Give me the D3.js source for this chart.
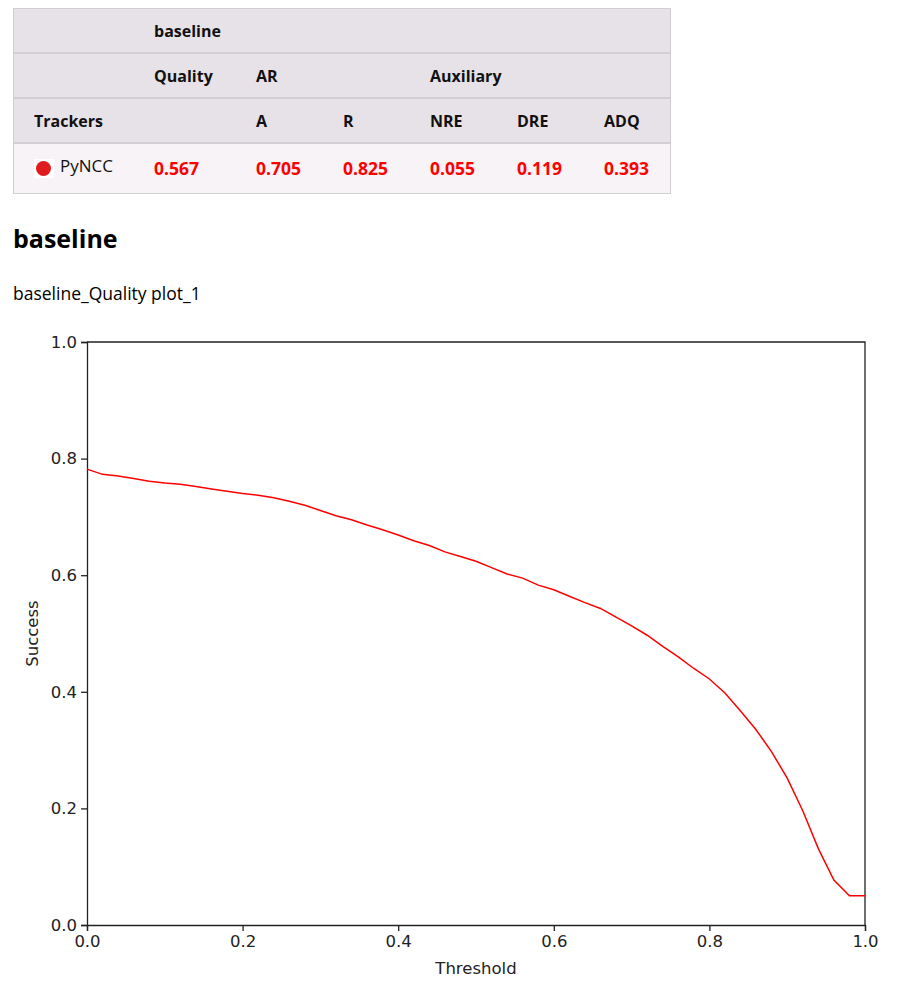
<!DOCTYPE html>
<html>
<head>
<meta charset="utf-8">
<script src="https://cdn.jsdelivr.net/npm/d3@7"></script>
<style>
  body { margin: 0; background: #fff; }
</style>
</head>
<body>
<div id="chart"></div>
<script>
//table content
const trackers = ["PyNCC"];
const metricKeys = ["Quality", "A", "R", "NRE", "DRE", "ADQ"];
const metricValues = [0.567, 0.705, 0.825, 0.055, 0.119, 0.393];

//success curve
const thresholds = [
  0.0, 0.02, 0.04, 0.06, 0.08, 0.1, 0.12, 0.14, 0.16, 0.18, 0.2, 0.22, 0.24,
  0.26, 0.28, 0.3, 0.32, 0.34, 0.36, 0.38, 0.4, 0.42, 0.44, 0.46, 0.48, 0.5,
  0.52, 0.54, 0.56, 0.58, 0.6, 0.62, 0.64, 0.66, 0.68, 0.7, 0.72, 0.74, 0.76,
  0.78, 0.8, 0.82, 0.84, 0.86, 0.88, 0.9, 0.92, 0.94, 0.96, 0.98, 1.0,
];
const success = [
  0.782, 0.773, 0.77, 0.766, 0.761, 0.758, 0.756, 0.752, 0.748, 0.744, 0.74,
  0.737, 0.733, 0.727, 0.72, 0.711, 0.702, 0.695, 0.686, 0.678, 0.669, 0.659,
  0.651, 0.64, 0.632, 0.624, 0.613, 0.602, 0.595, 0.583, 0.575, 0.564, 0.553,
  0.543, 0.528, 0.513, 0.497, 0.478, 0.46, 0.44, 0.422, 0.398, 0.367, 0.335,
  0.297, 0.252, 0.196, 0.131, 0.077, 0.05, 0.05,
];
const xTicks = [0, 0.2, 0.4, 0.6, 0.8, 1.0];
const yTicks = [0, 0.2, 0.4, 0.6, 0.8, 1.0];

//fonts
const pageFont = '"Open Sans", "Noto Sans", sans-serif';
const plotFont = '"DejaVu Sans", sans-serif';

//size
const width = 904;
const height = 990;

const svg = d3
  .select("#chart")
  .append("svg")
  .attr("width", width)
  .attr("height", height);

//----- results table -----
const table = { x: 13, y: 8, w: 658, rows: [45, 45, 45, 51] };
const colX = [34, 154, 256, 343, 430, 517, 604];

const tg = svg.append("g").style("font-family", pageFont);
const rowY = d3.cumsum([0, ...table.rows]).map((d) => d + table.y);

//row backgrounds
tg.selectAll("rect.row")
  .data(table.rows)
  .join("rect")
  .attr("class", "row")
  .attr("x", table.x)
  .attr("y", (d, i) => rowY[i])
  .attr("width", table.w)
  .attr("height", (d) => d)
  .attr("fill", (d, i) => (i < 3 ? "#e7e2e7" : "#f7f3f7"));

//row separators
tg.selectAll("line.sep")
  .data(rowY.slice(1, 4))
  .join("line")
  .attr("class", "sep")
  .attr("x1", table.x)
  .attr("x2", table.x + table.w)
  .attr("y1", (d) => d)
  .attr("y2", (d) => d)
  .attr("stroke", "#d3ced3")
  .attr("stroke-width", 2);

//outer border
tg.append("rect")
  .attr("x", table.x + 0.5)
  .attr("y", table.y + 0.5)
  .attr("width", table.w - 1)
  .attr("height", rowY[4] - table.y - 1)
  .attr("fill", "none")
  .attr("stroke", "#d0d0d0");

//header texts
const headers = [
  { text: "baseline", col: 1, row: 0 },
  { text: "Quality", col: 1, row: 1 },
  { text: "AR", col: 2, row: 1 },
  { text: "Auxiliary", col: 4, row: 1 },
  { text: "Trackers", col: 0, row: 2 },
  ...metricKeys.slice(1).map((k, i) => ({ text: k, col: i + 2, row: 2 })),
];
tg.selectAll("text.head")
  .data(headers)
  .join("text")
  .attr("class", "head")
  .attr("x", (d) => colX[d.col])
  .attr("y", (d) => rowY[d.row] + 29)
  .attr("font-size", 16)
  .attr("font-weight", "bold")
  .attr("fill", "#111")
  .text((d) => d.text);

//tracker rows
trackers.forEach((t, r) => {
  const y = rowY[3 + r] + 30;
  tg.append("rect")
    .attr("x", 34)
    .attr("y", y - 14)
    .attr("width", 20)
    .attr("height", 19)
    .attr("fill", "#fff");
  tg.append("circle")
    .attr("cx", 43.5)
    .attr("cy", y - 4.5)
    .attr("r", 7.5)
    .attr("fill", "#e11a1d");
  tg.append("text")
    .attr("x", 60)
    .attr("y", y - 1)
    .attr("font-size", 17)
    .attr("fill", "#111")
    .text(t);
  tg.selectAll("text.val" + r)
    .data(metricValues)
    .join("text")
    .attr("class", "val" + r)
    .attr("x", (d, i) => colX[i + 1])
    .attr("y", y + 2)
    .attr("font-size", 17.5)
    .attr("font-weight", "bold")
    .attr("fill", "#ff0000")
    .text((d) => d3.format(".3f")(d));
});

//----- section title -----
svg.append("text")
  .attr("x", 13)
  .attr("y", 248)
  .style("font-family", pageFont)
  .attr("font-size", 25)
  .attr("font-weight", "bold")
  .attr("fill", "#000")
  .text("baseline");

svg.append("text")
  .attr("x", 13)
  .attr("y", 300)
  .style("font-family", pageFont)
  .attr("font-size", 17.5)
  .attr("fill", "#000")
  .text("baseline_Quality plot_1");

//----- success plot -----
const plot = { left: 87, right: 865, top: 342, bottom: 925 };

const xScale = d3.scaleLinear().domain([0, 1]).range([plot.left, plot.right]);
const yScale = d3.scaleLinear().domain([0, 1]).range([plot.bottom, plot.top]);

const pg = svg.append("g");

function styleAxis(g) {
  g.attr("font-family", null).attr("font-size", null);
  g.selectAll("text")
    .style("font-family", plotFont)
    .style("font-size", "16.5px")
    .attr("fill", "#222");
  g.selectAll("line, path").attr("stroke", "#222").attr("stroke-width", 1.3);
}

//x axis
pg.append("g")
  .attr("transform", `translate(0,${plot.bottom})`)
  .call(
    d3.axisBottom(xScale).tickValues(xTicks).tickFormat(d3.format(".1f")).tickSize(6).tickPadding(4)
  )
  .call(styleAxis);

//y axis
pg.append("g")
  .attr("transform", `translate(${plot.left},0)`)
  .call(
    d3.axisLeft(yScale).tickValues(yTicks).tickFormat(d3.format(".1f")).tickSize(6).tickPadding(4)
  )
  .call(styleAxis);

//top and right spines
pg.append("path")
  .attr("d", `M${plot.left},${plot.top}H${plot.right}V${plot.bottom}`)
  .attr("fill", "none")
  .attr("stroke", "#222")
  .attr("stroke-width", 1.3);

//axis labels
pg.append("text")
  .attr("x", (plot.left + plot.right) / 2)
  .attr("y", 974)
  .attr("text-anchor", "middle")
  .style("font-family", plotFont)
  .style("font-size", "16.5px")
  .attr("fill", "#222")
  .text("Threshold");

pg.append("text")
  .attr("transform", `translate(38,${(plot.top + plot.bottom) / 2}) rotate(-90)`)
  .attr("text-anchor", "middle")
  .style("font-family", plotFont)
  .style("font-size", "16.5px")
  .attr("fill", "#222")
  .text("Success");

//curve
const line = d3
  .line()
  .x((d, i) => xScale(thresholds[i]))
  .y((d) => yScale(d));

pg.append("path")
  .datum(success)
  .attr("d", line)
  .attr("fill", "none")
  .attr("stroke", "#ff0000")
  .attr("stroke-width", 1.5);
</script>
</body>
</html>
